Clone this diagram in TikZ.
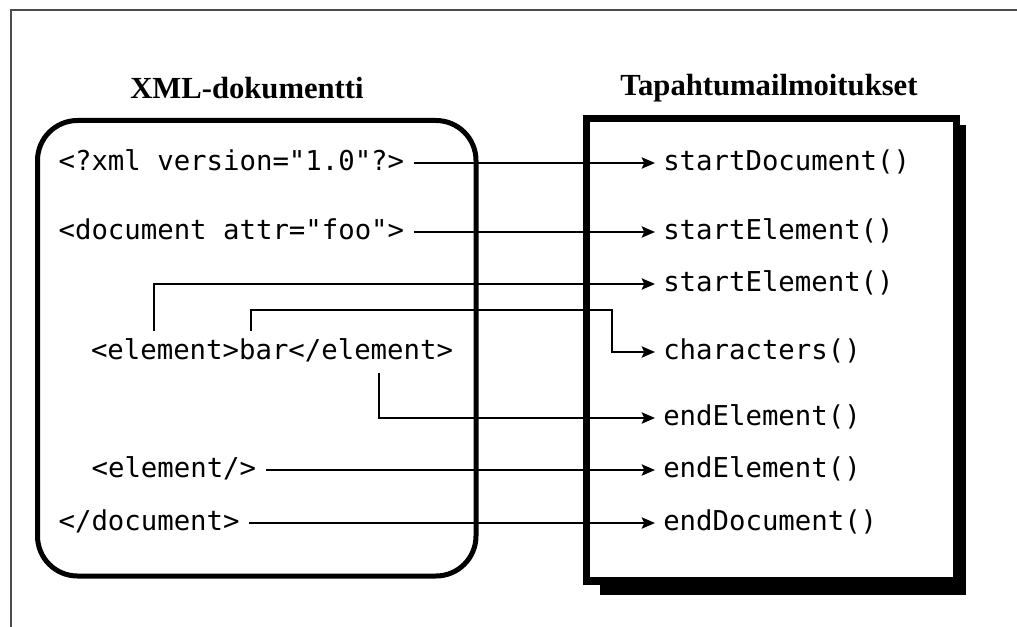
\documentclass[tikz,border=0pt]{standalone}
\usepackage{fontspec}
\setmainfont{Liberation Serif}
\setmonofont{DejaVu Sans Mono}
\usetikzlibrary{arrows.meta, positioning}

\begin{document}
\begin{tikzpicture}[
    x=0.75pt, y=-0.75pt,
    title/.style={font=\fontsize{23}{27}\selectfont\bfseries},
    code/.style={font=\fontsize{20.5}{24}\selectfont\ttfamily,
                 text height=15.5pt, text depth=4.3pt,
                 inner xsep=7pt, inner ysep=6pt, anchor=west},
    part/.style={code, inner xsep=0pt, outer sep=0pt},
    event/.style={code, inner xsep=6pt},
    xmlbox/.style={line width=3.75pt, rounded corners=30pt},
    eventbox/.style={line width=5.5pt, fill=white},
    arrow/.style={-{Stealth[length=10pt, width=8.5pt, inset=2pt]}, line width=1.5pt},
]
    \useasboundingbox (0,0) rectangle (1017,627);

    % Frame
    \draw[line width=1.5pt, black!70] (11,627) -- (11,10) -- (1017,10);

    % Boxes
    \draw[xmlbox] (37.5,120.5) rectangle (476,576);
    \fill (600,125) rectangle (966,595);
    \draw[eventbox] (586.5,118.5) rectangle (956.5,581);

    % Titles
    \node[title] (xmltitle) at (247,88) {XML-dokumentti};
    \node[title] (evtitle) at (769,88) {Tapahtumailmoitukset};

    % XML document
    \node[code] (decl) at (49,163) {<?xml version="1.0"?>};
    \node[code] (docopen) at (49,232) {<document attr="foo">};
    \node[part] (elopen) at (91,352) {<element>};
    \node[part, right=0pt of elopen] (eltext) {bar};
    \node[part, right=0pt of eltext] (elclose) {</element>};
    \node[code] (elempty) at (82,470) {<element/>};
    \node[code] (docclose) at (49,523) {</document>};

    % Events
    \node[event] (startdoc) at (655,163) {startDocument()};
    \node[event] (startel) at (655,232) {startElement()};
    \node[event] (startelin) at (655,284) {startElement()};
    \node[event] (chars) at (655,352) {characters()};
    \node[event] (endel) at (655,418) {endElement()};
    \node[event] (endelempty) at (655,470) {endElement()};
    \node[event] (enddoc) at (655,523) {endDocument()};

    % Connectors
    \draw[arrow] (decl) -- (startdoc);
    \draw[arrow] (docopen) -- (startel);
    \draw[arrow] ([xshift=-8pt]elopen.north) |- (startelin);
    \coordinate (bend) at (612,310);
    \draw[arrow] ([xshift=9pt]eltext.north west) |- (bend) |- (chars);
    \draw[arrow] ([xshift=6pt]elclose.south) |- (endel);
    \draw[arrow] (elempty) -- (endelempty);
    \draw[arrow] (docclose) -- (enddoc);
\end{tikzpicture}
\end{document}
